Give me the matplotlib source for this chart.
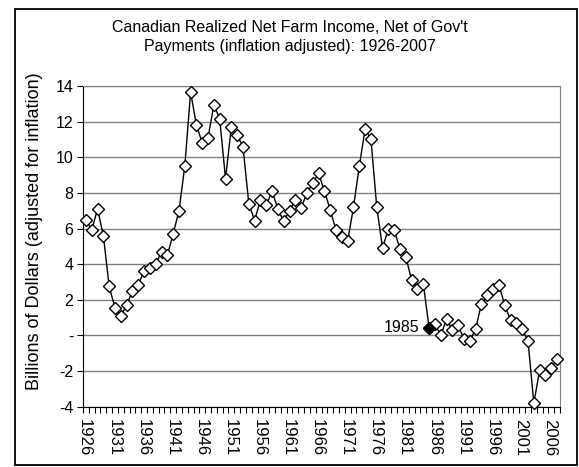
import numpy as np
import matplotlib
matplotlib.use("Agg")
import matplotlib.pyplot as plt
from matplotlib.patches import Rectangle

plt.rcParams['font.family'] = ['Liberation Sans', 'DejaVu Sans']

# realized net farm income, net of gov't payments, billions (inflation adjusted)
years = list(range(1926, 2008))
income = [6.5, 5.9, 7.1, 5.6, 2.75, 1.55, 1.1, 1.7, 2.5, 2.85,
          3.6, 3.8, 4.0, 4.7, 4.5, 5.7, 7.0, 9.5, 13.65, 11.8,
          10.8, 11.1, 12.95, 12.15, 8.8, 11.7, 11.25, 10.6, 7.4, 6.45,
          7.6, 7.3, 8.1, 7.1, 6.4, 7.0, 7.6, 7.15, 8.0, 8.55,
          9.1, 8.1, 7.05, 5.9, 5.5, 5.3, 7.2, 9.5, 11.6, 11.0,
          7.2, 4.9, 6.0, 5.9, 4.85, 4.4, 3.1, 2.6, 2.9, 0.43,
          0.65, 0.0, 0.93, 0.28, 0.56, -0.2, -0.32, 0.37, 1.78, 2.25,
          2.6, 2.85, 1.7, 0.85, 0.7, 0.37, -0.32, -3.8, -1.95, -2.2,
          -1.85, -1.3]
highlight_year = 1985
yticks = [14, 12, 10, 8, 6, 4, 2, 0, -2, -4]
ytick_labels = ['14', '12', '10', '8', '6', '4', '2', '-', '-2', '-4']
title1 = "Canadian Realized Net Farm Income, Net of Gov't"
title2 = "Payments (inflation adjusted): 1926-2007"
ylab = 'Billions of Dollars (adjusted for inflation)'

W, H = 579, 467
fig = plt.figure(figsize=(W / 100, H / 100), dpi=100)
fig.patches.append(Rectangle((15 / W, 2 / H), 562 / W, 456 / H, transform=fig.transFigure,
                             fill=False, edgecolor='black', linewidth=1.3))

ax = fig.add_axes([83 / W, 1 - 406.7 / H, 477 / W, 320.7 / H])
xpos = np.arange(len(years)) + 0.5
ax.plot(xpos, income, color='black', linewidth=1.0, marker='D', markersize=6.0,
        markerfacecolor='white', markeredgecolor='black', markeredgewidth=1.0,
        zorder=3, clip_on=False)

hi = years.index(highlight_year)
ax.plot(xpos[hi], income[hi], marker='D', markersize=6.0, color='black', zorder=4)
ax.annotate(str(highlight_year), (xpos[hi], income[hi]), xytext=(-7, 0),
            textcoords='offset points', ha='right', va='center', fontsize=11.5)

ax.set_xlim(0, len(years))
ax.set_ylim(-4, 14)
ax.set_yticks(yticks)
ax.set_yticklabels(ytick_labels, fontsize=11.5)
ax.grid(axis='y', color='#808080', linewidth=1.0)
ax.set_axisbelow(True)

ax.set_xticks(np.arange(0, len(years) + 1))
ax.set_xticklabels([])
lab_idx = np.arange(0, len(years), 5)
ax.set_xticks(lab_idx + 0.3, minor=True)
ax.set_xticklabels([str(years[i]) for i in lab_idx], minor=True, rotation=-90,
                   fontsize=12)
ax.tick_params(axis='x', which='major', length=4, direction='out', color='black')
ax.tick_params(axis='x', which='minor', length=0, pad=9)
ax.tick_params(axis='y', length=4, direction='out', pad=3)

for s in ['top', 'right']:
    ax.spines[s].set_color('#808080')
for s in ['left', 'bottom']:
    ax.spines[s].set_color('black')

fig.text(35 / W, 1 - 231 / H, ylab, rotation=90, ha='center', va='center', fontsize=13)
fig.text(0.5, 1 - 28 / H, title1, ha='center', va='center', fontsize=11.5)
fig.text(0.5, 1 - 46 / H, title2, ha='center', va='center', fontsize=11.5)

fig.savefig('out.png', dpi=100)
